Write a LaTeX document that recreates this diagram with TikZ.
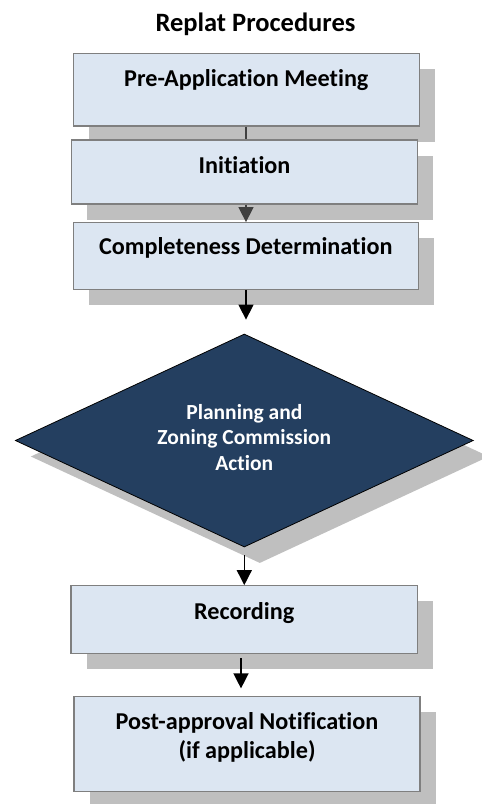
\documentclass[tikz,border=0pt]{standalone}
\usepackage{fontspec}
\setmainfont{Carlito}[RawFeature={-liga,-clig,-dlig}]
\usetikzlibrary{shapes.geometric,arrows.meta,backgrounds}
\definecolor{boxfill}{HTML}{DCE6F2}
\definecolor{boxline}{HTML}{7F7F7F}
\definecolor{shade}{HTML}{BFBFBF}
\definecolor{navy}{HTML}{243F60}
\definecolor{darkarrow}{HTML}{404040}
\begin{document}
\begin{tikzpicture}[x=1pt,y=-1pt,
  box/.style={draw=boxline, line width=1.2pt, fill=boxfill, inner sep=0pt},
  shadowbox/.style={fill=shade, draw=none, inner sep=0pt},
  lbl/.style={font=\bfseries\fontsize{24.2}{28.5}\selectfont, align=center, inner sep=0pt},
  tlbl/.style={font=\bfseries\fontsize{26.5}{30}\selectfont, align=center, inner sep=0pt},
  dlbl/.style={font=\bfseries\fontsize{21.5}{25.7}\selectfont, align=center, inner sep=0pt, text=white},
  arr/.style={line width=1.4pt, -{Triangle[width=15pt,length=15pt]}},
]
\useasboundingbox (0,0) rectangle (482,804);

\node[tlbl] (title) at (255.5,24) {Replat Procedures};

\node[box, minimum width=346pt, minimum height=72.7pt] (b1) at (246.3,89.7) {};
\node[box, minimum width=345.6pt, minimum height=64pt] (b2) at (244.5,172) {};
\node[box, minimum width=345pt, minimum height=66.6pt] (b3) at (245.8,256) {};
\node[diamond, fill=navy, draw=black, line width=0.8pt, minimum width=458pt, minimum height=213pt, inner sep=0pt] (dia) at (244.3,440.5) {};
\node[box, minimum width=346.3pt, minimum height=67.6pt] (b4) at (244.2,619.5) {};
\node[box, minimum width=346pt, minimum height=95pt] (b5) at (247,744.2) {};

\begin{scope}[on background layer]
  \node[shadowbox, minimum width=346pt, minimum height=72.7pt] (s1) at ([shift={(15.5,15.5)}]b1.center) {};
  \node[shadowbox, minimum width=345.6pt, minimum height=64pt] (s2) at ([shift={(15.5,15.5)}]b2.center) {};
  \node[shadowbox, minimum width=345pt, minimum height=66.6pt] (s3) at ([shift={(15.5,15.5)}]b3.center) {};
  \node[diamond, fill=shade, minimum width=458pt, minimum height=213pt, inner sep=0pt] (sd) at ([shift={(15.5,16)}]dia.center) {};
  \node[shadowbox, minimum width=346.3pt, minimum height=67.6pt] (s4) at ([shift={(15.5,15.5)}]b4.center) {};
  \node[shadowbox, minimum width=346pt, minimum height=95pt] (s5) at ([shift={(15.5,15.5)}]b5.center) {};
\end{scope}

\node[lbl] (t1) at (246.3,80) {Pre-Application Meeting};
\node[lbl] (t2) at (244.5,165) {Initiation};
\node[lbl] (t3) at (245.8,248) {Completeness Determination};
\node[dlbl] (td) at (244.3,437.5) {Planning and\\Zoning Commission\\Action};
\node[lbl] (t4) at (244.2,613.3) {Recording};
\node[lbl] (t5) at (247,737.5) {Post-approval Notification\\(if applicable)};

\draw[darkarrow, line width=1.4pt] (b1.south -| 246,0) -- (b2.north -| 246,0);
\draw[arr, darkarrow] (b2.south -| 246,0) -- (b3.north -| 246,0);
\draw[arr, shorten >=14pt] (b3.south -| 246,0) -- (dia.north -| 246,0);
\draw[arr, shorten <=8pt] (dia.south) -- (dia.south |- b4.north);
\draw[arr, shorten <=4.5pt, shorten >=7.7pt] (b4.south -| 241,0) -- (b5.north -| 241,0);
\end{tikzpicture}
\end{document}
